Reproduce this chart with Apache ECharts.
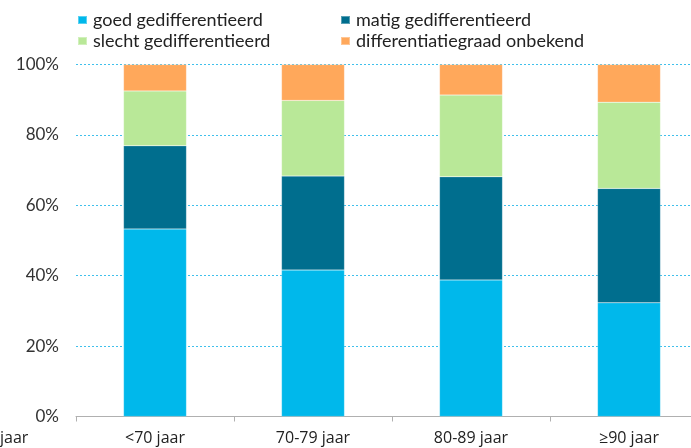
<!DOCTYPE html>
<html><head><meta charset="utf-8">
<script src="https://cdn.jsdelivr.net/npm/echarts@6/dist/echarts.min.js"></script>
<style>html,body{margin:0;padding:0;background:#fff;overflow:hidden}#c{width:708px;height:448px}</style>
</head><body><div id="c"></div>
<script>
const categories = ['<70 jaar', '70-79 jaar', '80-89 jaar', '≥90 jaar'];
const goed = [53.3, 41.6, 38.8, 32.3];
const matig = [23.6, 26.7, 29.3, 32.5];
const slecht = [15.6, 21.5, 23.2, 24.5];
const onbekend = [7.5, 10.2, 8.7, 10.7];
const seriesNames = ['goed gedifferentieerd', 'matig gedifferentieerd', 'slecht gedifferentieerd', 'differentiatiegraad onbekend'];
const yTicks = [0, 20, 40, 60, 80, 100];

const colors = ['#00B8EB', '#006E8E', '#B9E898', '#FFA85B'];
const font = 'Lato';
const font2 = 'Open Sans';
const chart = echarts.init(document.getElementById('c'));
const data = [goed, matig, slecht, onbekend];
const legendText = {fontFamily: font, fontSize: 18, color: '#222', padding: [0, 0, 0, 1]};
chart.setOption({
  animation: false,
  textStyle: {fontFamily: font},
  legend: [
    {data: [seriesNames[0], seriesNames[2]], orient: 'vertical', left: 77, top: 11, padding: 0, itemWidth: 9, itemHeight: 8, itemGap: 3, icon: 'rect', textStyle: legendText},
    {data: [seriesNames[1], seriesNames[3]], orient: 'vertical', left: 340, top: 11, padding: 0, itemWidth: 9, itemHeight: 8, itemGap: 3, icon: 'rect', textStyle: legendText}
  ],
  grid: {left: 76, top: 64.5, bottom: 31.5, right: 0, containLabel: false},
  xAxis: {
    type: 'category', data: categories,
    axisLine: {lineStyle: {color: '#B0B0B0'}},
    axisTick: {show: true, length: 5, lineStyle: {color: '#B0B0B0'}},
    axisLabel: {fontFamily: font2, fontSize: 16, color: '#222', margin: 14}
  },
  yAxis: {
    type: 'value', min: 0, max: 100, interval: 20,
    axisLine: {show: false}, axisTick: {show: false},
    axisLabel: {fontFamily: font, fontSize: 17, color: '#333', margin: 17, formatter: v => yTicks.includes(v) ? v + '%' : ''},
    splitLine: {lineStyle: {color: '#3FC0EC', type: [2, 2], width: 1}}
  },
  graphic: [{type: 'text', left: 0, top: 430, style: {text: 'jaar', font: '16px "Open Sans"', fill: '#222'}}],
  series: seriesNames.map((n, i) => ({
    name: n, type: 'bar', stack: 'a', barWidth: 63, data: data[i],
    itemStyle: {color: colors[i], borderColor: 'rgba(255,255,255,0.35)', borderWidth: 0.5}
  }))
});
</script></body></html>
